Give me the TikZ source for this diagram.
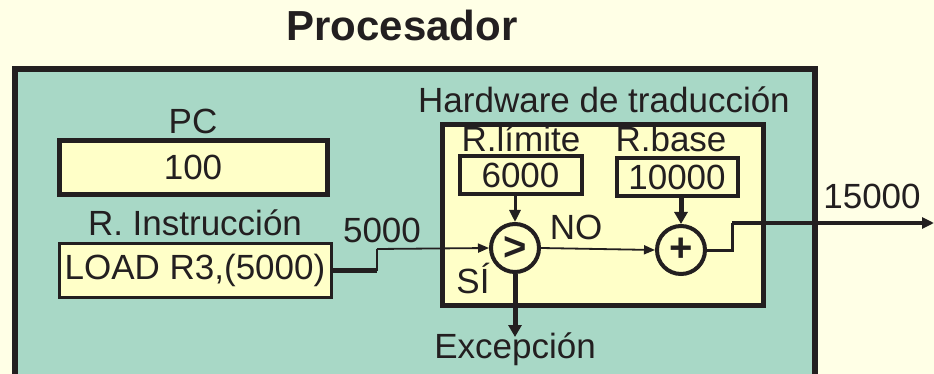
\documentclass[tikz,border=0pt]{standalone}
\usepackage{fontspec}
\setmainfont{Liberation Sans}
\usetikzlibrary{arrows.meta}
\definecolor{cream}{RGB}{255,255,230}
\definecolor{teal1}{RGB}{168,216,198}
\definecolor{yel}{RGB}{255,255,200}
\definecolor{ink}{RGB}{35,31,32}
\tikzset{
  txt/.style={inner sep=0pt, anchor=base, text=ink, font=\fontsize{35}{40}\selectfont},
  regbox/.style={draw=ink, fill=yel, inner sep=0pt, text=ink, font=\fontsize{35}{40}\selectfont},
  opcirc/.style={circle, draw=ink, fill=yel, line width=4pt, minimum size=48pt, inner sep=0pt, text=ink, font=\fontsize{40}{44}\selectfont\bfseries},
  thinarrow/.style={draw=ink, line width=1.8pt, -{Triangle[length=11pt,width=9pt]}},
  midarrow/.style={draw=ink, line width=3pt, -{Triangle[length=12pt,width=11pt]}},
  fatarrow/.style={draw=ink, line width=5pt, -{Triangle[length=12pt,width=13pt]}},
}
\begin{document}
\begin{tikzpicture}[x=1pt,y=-1pt]
\useasboundingbox (0,0) rectangle (934,374);
\clip (0,0) rectangle (934,374);
\fill[cream] (0,0) rectangle (934,374);
% outer processor box
\draw[ink, fill=teal1, line width=5.5pt] (15,69) rectangle (815,390);
\node[txt, font=\fontsize{42}{48}\selectfont\bfseries] (title) at (402,41) {Procesador};
% PC
\node[txt] (pclab) at (193,134) {PC};
\node[regbox, line width=5pt, minimum width=268pt, minimum height=54pt] (pc) at (193,167.5) {100};
% R. Instruccion
\node[txt] (irlab) at (195,235) {R. Instrucción};
\node[regbox, line width=3pt, minimum width=272pt, minimum height=54pt] (ir) at (195,270.5) {LOAD R3,(5000)};
% hardware de traduccion
\node[txt] (hwlab) at (604,113) {Hardware de traducción};
\draw[ink, fill=yel, line width=5pt] (442,125) rectangle (763,305);
\node[txt] (limlab) at (521,152) {R.límite};
\node[regbox, line width=4pt, minimum width=122pt, minimum height=38pt] (lim) at (520.5,175.5) {6000};
\node[txt] (baslab) at (671,152) {R.base};
\node[regbox, line width=4pt, minimum width=121pt, minimum height=38pt] (bas) at (677,177) {10000};
% operators
\node[opcirc] (cmp) at (515,248) {>};
\node[opcirc] (add) at (681,250) {+};
% labels
\node[txt] (l5000) at (382,243) {5000};
\node[txt] (lno) at (576,240) {NO};
\node[txt] (lsi) at (473,293) {SÍ};
\node[txt] (lexc) at (515,358) {Excepción};
\node[txt] (l15000) at (872,208) {15000};
% connectors
\coordinate (j1) at (377,270.5);
\coordinate (j2) at (377,249);
\draw[ink, line width=5pt] (ir.east) -- (j1);
\draw[ink, line width=2pt] (j1) -- (j2);
\draw[thinarrow] (j2) -- (cmp.west);
\draw[thinarrow] (cmp.east) -- (add.west);
\draw[midarrow] (lim.south -| cmp.north) -- (cmp.north);
\draw[fatarrow] (bas.south -| add.north) -- (add.north);
\coordinate (k1) at (732,250);
\coordinate (k2) at (732,223);
\coordinate (out) at (934,223);
\draw[ink, line width=3pt] (add.east) -- (k1) -- (k2);
\draw[midarrow] (k2) -- (out);
\coordinate (exc) at (515,337);
\draw[fatarrow] (cmp.south) -- (exc);
\end{tikzpicture}
\end{document}
